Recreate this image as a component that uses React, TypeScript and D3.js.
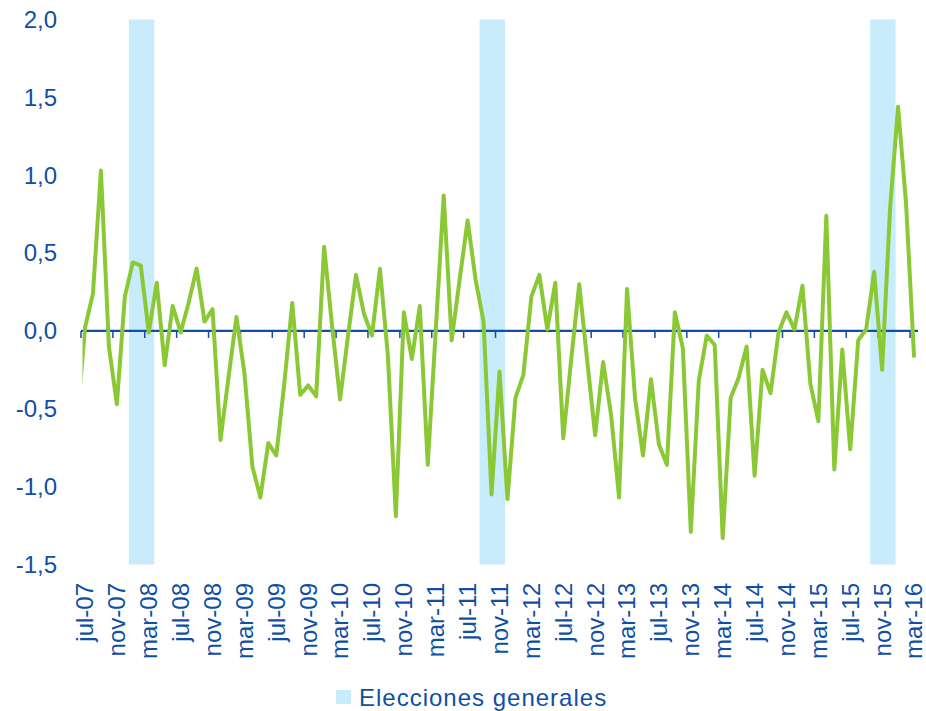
import React, { useEffect, useRef } from 'react';
import * as d3 from 'd3';

// months from jun-07 to mar-16 (jun-07 only sits just outside the left edge)
const monthNames = ['ene', 'feb', 'mar', 'abr', 'may', 'jun', 'jul', 'ago', 'sep', 'oct', 'nov', 'dic'];
const firstYear = 2007;
const firstMonth = 5; // jun

const values: number[] = [
  -0.6,
  0.02, 0.24, 1.03, -0.1, -0.47, 0.22, 0.44, 0.42, -0.01, 0.31, -0.22, 0.16,
  -0.01, 0.18, 0.4, 0.06, 0.14, -0.7, -0.3, 0.09, -0.27, -0.87, -1.07, -0.72,
  -0.8, -0.34, 0.18, -0.41, -0.35, -0.42, 0.54, 0.03, -0.44, -0.03, 0.36, 0.11,
  -0.03, 0.4, -0.16, -1.19, 0.12, -0.18, 0.16, -0.86, 0.0, 0.87, -0.06, 0.33,
  0.71, 0.33, 0.06, -1.05, -0.26, -1.08, -0.43, -0.28, 0.22, 0.36, 0.01, 0.31,
  -0.69, -0.18, 0.3, -0.19, -0.67, -0.2, -0.54, -1.07, 0.27, -0.43, -0.8, -0.31,
  -0.73, -0.86, 0.12, -0.11, -1.29, -0.32, -0.03, -0.09, -1.33, -0.43, -0.3, -0.1,
  -0.93, -0.25, -0.4, -0.01, 0.12, 0.01, 0.29, -0.34, -0.58, 0.74, -0.89, -0.12,
  -0.76, -0.06, 0.01, 0.38, -0.25, 0.79, 1.44, 0.82, -0.16,
];

const months: string[] = values.map((_, i) => {
  const m = firstMonth + i;
  const y = firstYear + Math.floor(m / 12);
  return `${monthNames[m % 12]}-${String(y % 100).padStart(2, '0')}`;
});

// periods with general elections (first and last month)
const elections: [string, string][] = [
  ['ene-08', 'mar-08'],
  ['sep-11', 'nov-11'],
  ['oct-15', 'dic-15'],
];

const yTicks = [2, 1.5, 1, 0.5, 0, -0.5, -1, -1.5];
const legendLabel = 'Elecciones generales';

const BLUE = '#0f4fa6';
const GREEN = '#8bc835';
const BAND = '#c8ecfc';
const FONT = '"Liberation Sans", Arial, sans-serif';

const App = () => {
  const svgRef = useRef<SVGSVGElement>(null);

  useEffect(() => {
    const svg = d3.select(svgRef.current);
    svg.selectAll('*').remove();

    const left = 81;
    const right = 918;
    const top = 19.5;
    const bottom = 564.5;

    // index 1 = jul-07, index 105 = mar-16
    const x = d3.scaleLinear().domain([0.5, values.length - 0.5]).range([left, right]);
    const y = d3.scaleLinear().domain([-1.5, 2]).range([bottom, top]);
    const idx = (m: string) => months.indexOf(m);

    svg.append('defs').append('clipPath').attr('id', 'plot')
      .append('rect')
      .attr('x', left + 1.5).attr('y', 0)
      .attr('width', right - left + 6).attr('height', 711);

    // election bands
    svg.append('g').selectAll('rect')
      .data(elections)
      .join('rect')
      .attr('x', d => x(idx(d[0]) - 0.5))
      .attr('width', d => x(idx(d[1]) + 0.5) - x(idx(d[0]) - 0.5) + 1.5)
      .attr('y', y(2))
      .attr('height', y(-1.5) - y(2))
      .attr('fill', BAND);

    // y labels
    svg.append('g').selectAll('text')
      .data(yTicks)
      .join('text')
      .attr('x', 57)
      .attr('y', d => y(d))
      .attr('dy', '0.35em')
      .attr('text-anchor', 'end')
      .attr('font-family', FONT)
      .attr('font-size', 24)
      .attr('fill', BLUE)
      .text(d => d3.format('.1f')(d).replace('.', ',').replace('−', '-'));

    // zero axis
    const axis = svg.append('g');
    axis.append('line')
      .attr('x1', left).attr('x2', right)
      .attr('y1', y(0)).attr('y2', y(0))
      .attr('stroke', BLUE).attr('stroke-width', 2.2);

    const tickIdx = d3.range(1, values.length, 4);
    axis.selectAll('line.tick')
      .data(tickIdx)
      .join('line')
      .attr('class', 'tick')
      .attr('x1', d => x(d - 0.5)).attr('x2', d => x(d - 0.5))
      .attr('y1', y(0)).attr('y2', y(0) + 7)
      .attr('stroke', BLUE).attr('stroke-width', 1.5);

    // month labels, rotated
    svg.append('g').selectAll('text')
      .data(tickIdx)
      .join('text')
      .attr('transform', d => `translate(${x(d)},583) rotate(-90)`)
      .attr('dy', '0.35em')
      .attr('text-anchor', 'end')
      .attr('font-family', FONT)
      .attr('font-size', 24)
      .attr('fill', BLUE)
      .text(d => months[d]);

    // series line
    const line = d3.line<number>()
      .x((_, i) => x(i))
      .y(d => y(d));

    svg.append('path')
      .datum(values)
      .attr('clip-path', 'url(#plot)')
      .attr('fill', 'none')
      .attr('stroke', GREEN)
      .attr('stroke-width', 4)
      .attr('stroke-linejoin', 'round')
      .attr('stroke-linecap', 'round')
      .attr('d', line);

    // legend
    const legend = svg.append('g');
    legend.append('rect')
      .attr('x', 336).attr('y', 690)
      .attr('width', 15).attr('height', 14)
      .attr('fill', BAND);
    legend.append('text')
      .attr('x', 359).attr('y', 706)
      .attr('font-family', FONT)
      .attr('font-size', 24)
      .attr('letter-spacing', 1)
      .attr('fill', BLUE)
      .text(legendLabel);
  }, []);

  return (
    <svg
      ref={svgRef}
      width={926}
      height={711}
      style={{ position: 'absolute', left: 0, top: 0, background: '#fff' }}
    />
  );
};

export default App;
